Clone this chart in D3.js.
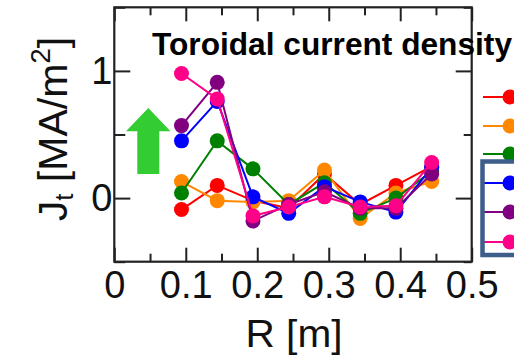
<!DOCTYPE html>
<html>
<head>
<meta charset="utf-8">
<script src="https://cdn.jsdelivr.net/npm/d3@7"></script>
<style>
  html, body { margin: 0; padding: 0; background: #fff; }
  svg { display: block; font-family: "Liberation Sans", Arial, sans-serif; }
</style>
</head>
<body>
<svg id="chart" width="514" height="361"></svg>
<script>
// Radial positions of the measurement chords [m]
const radius = [0.094, 0.144, 0.194, 0.244, 0.294, 0.344, 0.394, 0.444];

// Toroidal current density for each time slice [MA/m^2]
const seriesNames = ["t1", "t2", "t3", "t4", "t5", "t6"];
const seriesColors = ["#ff0000", "#ff8800", "#008000", "#0000ff", "#800080", "#ff0088"];
const jRed    = [-0.09, 0.10, -0.02, -0.08, 0.19, -0.05, 0.10, 0.25];
const jOrange = [ 0.13, -0.02, -0.03, -0.02, 0.22, -0.16, 0.04, 0.13];
const jGreen  = [ 0.04, 0.45, 0.23, -0.05, 0.12, -0.12, 0.00, 0.21];
const jBlue   = [ 0.45, 0.76, 0.01, -0.12, 0.09, -0.03, -0.11, 0.24];
const jPurple = [ 0.57, 0.91, -0.18, -0.05, 0.05, -0.08, -0.08, 0.19];
const jPink   = [ 0.98, 0.78, -0.14, -0.07, 0.01, -0.07, -0.06, 0.28];

// Axis ticks
const xMajorTicks = [0, 0.1, 0.2, 0.3, 0.4, 0.5];
const xMinorTicks = [0.05, 0.15, 0.25, 0.35, 0.45];
const yMajorTicks = [0, 1];
const yMinorTicks = [-0.5, 0.5, 1.5];

const titleText = "Toroidal current density";
const xLabelText = "R [m]";

const allSeries = [jRed, jOrange, jGreen, jBlue, jPurple, jPink];

const svg = d3.select("#chart");
const plotLeft = 114.3, plotRight = 471.7, plotTop = 7.3, plotBottom = 261.7;

const x = d3.scaleLinear().domain([0, 0.5]).range([plotLeft, plotRight]);
const y = d3.scaleLinear().domain([-0.5, 1.5]).range([plotBottom, plotTop]);

const axisColor = "#222";
const labelSize = 38;

function styleAxis(g) {
  g.select(".domain").remove();
  g.selectAll(".tick line").attr("stroke", axisColor).attr("stroke-width", 2);
  g.selectAll("text").attr("fill", "#111").style("font-size", labelSize + "px")
    .style("font-family", "'Liberation Sans', Arial, sans-serif");
}

// Bottom axis: labelled major ticks plus minor ticks, pointing inward
svg.append("g").attr("transform", `translate(0,${plotBottom})`)
  .call(d3.axisBottom(x).tickValues(xMajorTicks).tickSize(-14).tickPadding(9)
    .tickFormat(d => d === 0 ? "0" : d3.format(".1f")(d)))
  .call(styleAxis);
svg.append("g").attr("transform", `translate(0,${plotBottom})`)
  .call(d3.axisBottom(x).tickValues(xMinorTicks).tickSize(-8).tickFormat(""))
  .call(styleAxis);

// Top axis: ticks only
svg.append("g").attr("transform", `translate(0,${plotTop})`)
  .call(d3.axisTop(x).tickValues(xMajorTicks).tickSize(-14).tickFormat(""))
  .call(styleAxis);
svg.append("g").attr("transform", `translate(0,${plotTop})`)
  .call(d3.axisTop(x).tickValues(xMinorTicks).tickSize(-8).tickFormat(""))
  .call(styleAxis);

// Left axis
svg.append("g").attr("transform", `translate(${plotLeft},0)`)
  .call(d3.axisLeft(y).tickValues(yMajorTicks).tickSize(-16).tickPadding(2)
    .tickFormat(d3.format("d")))
  .call(styleAxis);
svg.append("g").attr("transform", `translate(${plotLeft},0)`)
  .call(d3.axisLeft(y).tickValues(yMinorTicks).tickSize(-11).tickFormat(""))
  .call(styleAxis);

// Right axis: ticks only
svg.append("g").attr("transform", `translate(${plotRight},0)`)
  .call(d3.axisRight(y).tickValues(yMajorTicks).tickSize(-16).tickFormat(""))
  .call(styleAxis);
svg.append("g").attr("transform", `translate(${plotRight},0)`)
  .call(d3.axisRight(y).tickValues(yMinorTicks).tickSize(-8).tickFormat(""))
  .call(styleAxis);

// Plot frame
svg.append("rect")
  .attr("x", plotLeft).attr("y", plotTop)
  .attr("width", plotRight - plotLeft).attr("height", plotBottom - plotTop)
  .attr("fill", "none").attr("stroke", axisColor).attr("stroke-width", 2.2);

// Green arrow marking the rising current near the core
svg.append("path")
  .attr("d", "M148.3,108 L170.5,131.2 L159.3,131.2 L159.3,174 L137.3,174 L137.3,131.2 L126,131.2 Z")
  .attr("fill", "#33cc33");

// Profiles: line then markers, one series at a time
const line = d3.line().x((d, i) => x(radius[i])).y(d => y(d));
allSeries.forEach((vals, s) => {
  const g = svg.append("g");
  g.append("path").datum(vals)
    .attr("d", line).attr("fill", "none")
    .attr("stroke", seriesColors[s]).attr("stroke-width", 2);
  g.selectAll("circle").data(vals).join("circle")
    .attr("cx", (d, i) => x(radius[i])).attr("cy", d => y(d))
    .attr("r", 7.5).attr("fill", seriesColors[s]);
});

// Title
svg.append("text")
  .attr("x", 152).attr("y", 54.5)
  .attr("textLength", 360).attr("lengthAdjust", "spacingAndGlyphs")
  .style("font-size", "30.5px").style("font-weight", "bold")
  .attr("fill", "#000")
  .text(titleText);

// Axis titles
svg.append("text")
  .attr("x", 294).attr("y", 346.5).attr("text-anchor", "middle")
  .attr("textLength", 97).attr("lengthAdjust", "spacingAndGlyphs")
  .style("font-size", "39px").attr("fill", "#111")
  .text(xLabelText);

const yLab = svg.append("text")
  .attr("transform", "translate(67,129) rotate(-90)")
  .attr("text-anchor", "middle")
  .style("font-size", "41px").attr("fill", "#111");
yLab.append("tspan").text("J");
yLab.append("tspan").attr("dy", 6).style("font-size", "26px").text("t");
yLab.append("tspan").attr("dy", -6).text(" [MA/m");
yLab.append("tspan").attr("dy", -17).style("font-size", "28px").text("2");
yLab.append("tspan").attr("dy", 17).text("]");

// Legend
const legendRows = [97, 126, 154, 183, 212, 242];
const legend = svg.append("g");
seriesNames.forEach((name, s) => {
  const ly = legendRows[s];
  legend.append("line")
    .attr("x1", 483).attr("x2", 508).attr("y1", ly).attr("y2", ly)
    .attr("stroke", seriesColors[s]).attr("stroke-width", 2);
  legend.append("circle")
    .attr("cx", 510).attr("cy", ly).attr("r", 7.5)
    .attr("fill", seriesColors[s]);
});
legend.append("rect")
  .attr("x", 482.5).attr("y", 161.5).attr("width", 60).attr("height", 93.5)
  .attr("fill", "none").attr("stroke", "#3d5d8a").attr("stroke-width", 4.5);
</script>
</body>
</html>
